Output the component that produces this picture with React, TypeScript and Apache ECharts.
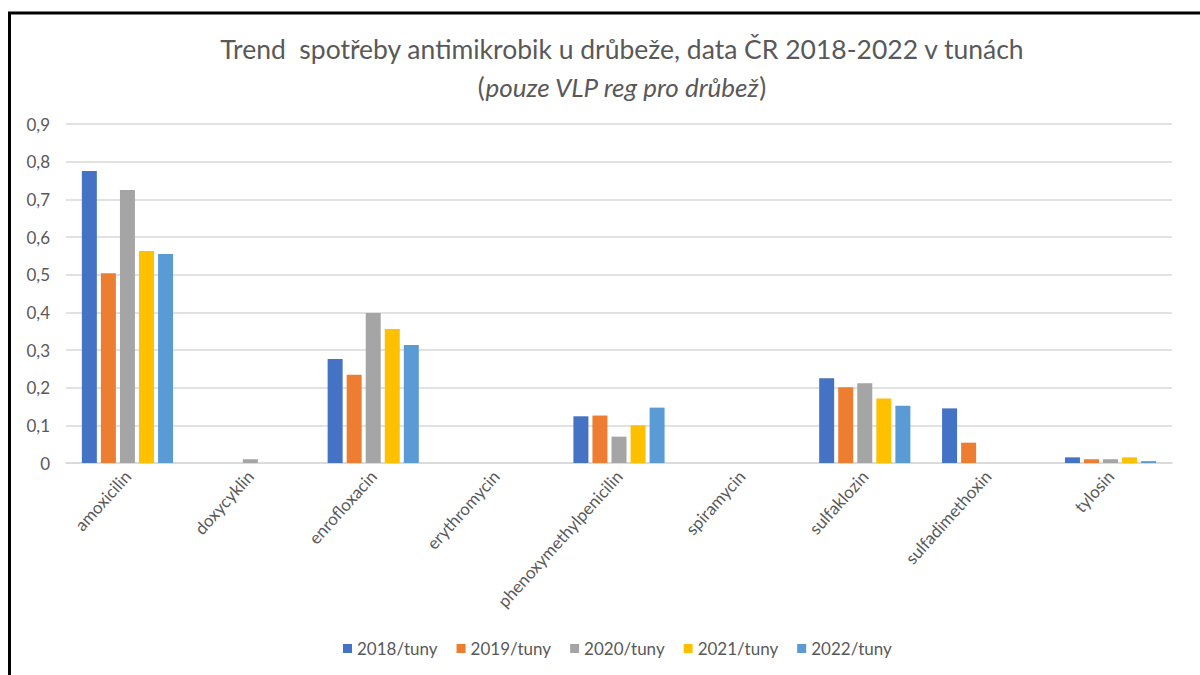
import React, { useEffect, useRef } from "react";
import * as echarts from "echarts";

const categories = [
  "amoxicilin",
  "doxycyklin",
  "enrofloxacin",
  "erythromycin",
  "phenoxymethylpenicilin",
  "spiramycin",
  "sulfaklozin",
  "sulfadimethoxin",
  "tylosin",
];

const seriesNames = ["2018/tuny", "2019/tuny", "2020/tuny", "2021/tuny", "2022/tuny"];

const values2018 = [0.775, null, 0.276, null, 0.124, null, 0.225, 0.145, 0.015];
const values2019 = [0.504, null, 0.234, null, 0.126, null, 0.201, 0.054, 0.01];
const values2020 = [0.725, 0.01, 0.398, null, 0.07, null, 0.212, null, 0.01];
const values2021 = [0.563, null, 0.356, null, 0.1, null, 0.171, null, 0.015];
const values2022 = [0.555, null, 0.313, null, 0.147, null, 0.152, null, 0.005];

const colors = ["#4472C4", "#ED7D31", "#A5A5A5", "#FFC000", "#5B9BD5"];

const FONT = "Lato, 'Open Sans', sans-serif";

export default function App() {
  const ref = useRef<HTMLDivElement>(null);

  useEffect(() => {
    if (!ref.current) return;
    const chart = echarts.init(ref.current, null, { renderer: "svg" });
    const allValues = [values2018, values2019, values2020, values2021, values2022];
    chart.setOption({
      animation: false,
      backgroundColor: "#ffffff",
      textStyle: { fontFamily: FONT },
      title: {
        text: "Trend  spotřeby antimikrobik u drůbeže, data ČR 2018-2022 v tunách\n{n|(}{i|pouze VLP reg pro drůbež}{n|)}",
        left: 617,
        top: 25,
        textAlign: "center",
        textStyle: {
          fontFamily: FONT,
          fontSize: 26.5,
          fontWeight: "normal",
          color: "#595959",
          lineHeight: 38,
          rich: {
            n: { fontFamily: FONT, fontSize: 26, color: "#595959", lineHeight: 38 },
            i: { fontFamily: FONT, fontSize: 26, color: "#595959", fontStyle: "italic", lineHeight: 38 },
          },
        },
      },
      legend: {
        bottom: 13,
        left: 338,
        itemWidth: 9,
        itemHeight: 9,
        itemGap: 19,
        icon: "rect",
        textStyle: { fontFamily: FONT, fontSize: 17, color: "#595959" },
        data: seriesNames,
      },
      grid: { left: 66, right: 28, top: 124, bottom: 212, containLabel: false },
      xAxis: {
        type: "category",
        data: categories,
        axisLine: { lineStyle: { color: "#D9D9D9", width: 1.5 } },
        axisTick: { show: false },
        axisLabel: {
          rotate: 48,
          interval: 0,
          margin: 10,
          fontFamily: FONT,
          fontSize: 17,
          color: "#595959",
        },
      },
      yAxis: {
        type: "value",
        min: 0,
        max: 0.9,
        interval: 0.1,
        axisLine: { show: false },
        axisTick: { show: false },
        splitLine: { lineStyle: { color: "#D9D9D9", width: 1.5 } },
        axisLabel: {
          fontFamily: FONT,
          fontSize: 17,
          color: "#595959",
          margin: 16,
          formatter: (v: number) => (v === 0 ? "0" : v.toFixed(1).replace(".", ",")),
        },
      },
      series: seriesNames.map((name, i) => ({
        name,
        type: "bar",
        data: allValues[i],
        barWidth: 15,
        barGap: "27%",
        itemStyle: { color: colors[i] },
      })),
      graphic: [
        {
          type: "polyline",
          shape: { points: [[9.5, 675], [9.5, 13], [1200, 13]] },
          style: { stroke: "#000000", lineWidth: 3, fill: null },
          z: 100,
        },
      ],
    });
    return () => chart.dispose();
  }, []);

  return (
    <div
      ref={ref}
      style={{ position: "absolute", left: 0, top: 0, width: 1200, height: 675 }}
    />
  );
}
